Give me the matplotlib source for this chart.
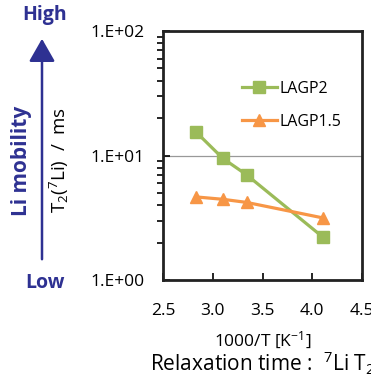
import matplotlib
matplotlib.use("Agg")
import matplotlib.pyplot as plt
from matplotlib.ticker import FixedLocator, LogLocator, NullFormatter

plt.rcParams['font.family'] = ['Open Sans', 'DejaVu Sans']
plt.rcParams['mathtext.fontset'] = 'custom'
plt.rcParams['mathtext.rm'] = 'Open Sans'
plt.rcParams['mathtext.it'] = 'Open Sans'
plt.rcParams['mathtext.bf'] = 'Open Sans:bold'

# Data
inv_T = [2.83, 3.10, 3.34, 4.11]
lagp2 = [15.5, 9.5, 7.0, 2.2]
lagp15 = [4.65, 4.45, 4.2, 3.15]
xticks = [2.5, 3.0, 3.5, 4.0, 4.5]
yticks = [1, 10, 100]
ytick_labels = ["1.E+00", "1.E+01", "1.E+02"]

W, H = 371, 378
fig = plt.figure(figsize=(W / 100, H / 100), dpi=100)
ax = fig.add_axes([163 / W, (H - 280) / H, 199 / W, 249 / H])

green = '#9BBB59'
orange = '#F79646'
ax.plot(inv_T, lagp2, color=green, lw=2.3, marker='s', ms=8, label='LAGP2')
ax.plot(inv_T, lagp15, color=orange, lw=2.3, marker='^', ms=9, label='LAGP1.5')

ax.set_yscale('log')
ax.set_ylim(1, 100)
ax.set_xlim(2.5, 4.5)
ax.set_xticks(xticks)
ax.set_xticklabels([f"{v:.1f}" for v in xticks])
ax.yaxis.set_major_locator(FixedLocator(yticks))
ax.set_yticklabels(ytick_labels)
ax.yaxis.set_minor_locator(LogLocator(base=10, subs=range(2, 10)))
ax.yaxis.set_minor_formatter(NullFormatter())
ax.tick_params(axis='both', direction='in', labelsize=12.5, colors='black')
ax.tick_params(axis='x', length=5, width=1.2, pad=16.5)
ax.tick_params(axis='y', which='major', length=5, width=1.2, pad=13)
ax.tick_params(axis='y', which='minor', length=4, width=1.2)
ax.grid(axis='y', which='major', color='#999999', lw=0.9)
for s in ax.spines.values():
    s.set_linewidth(2)
    s.set_color('#222222')

ax.set_xlabel(r'1000/T [K$^{-1}$]', fontsize=12.5, labelpad=8)
ax.set_ylabel(r'T$_2$($^7$Li)  /  ms', fontsize=13.5)
ax.yaxis.set_label_coords((71 - 163) / 199, (280 - 160) / 249)

ax.legend(loc='upper left', bbox_to_anchor=(0.395, 0.80), frameon=False,
          fontsize=11.5, handlelength=2.2, handletextpad=0.2, labelspacing=1.05,
          borderpad=0, borderaxespad=0)

blue = '#2E3192'
fig.text(22 / W, 1 - 161 / H, 'Li mobility', rotation=90, ha='center', va='center',
         fontsize=15, fontweight='bold', color=blue)
fig.text(45 / W, 1 - 15 / H, 'High', ha='center', va='center',
         fontsize=14, fontweight='bold', color=blue)
fig.text(45 / W, 1 - 283 / H, 'Low', ha='center', va='center',
         fontsize=14, fontweight='bold', color=blue)
fig.patches.append(matplotlib.patches.FancyArrowPatch(
    (42 / W, 1 - 262 / H), (42 / W, 1 - 36 / H), transform=fig.transFigure,
    arrowstyle='-|>,head_length=7,head_width=4', color=blue, lw=1.8,
    mutation_scale=2))

fig.text(150 / W, 1 - 363 / H, r'Relaxation time :  $^7$Li T$_2$', ha='left', va='center',
         fontsize=15)

fig.savefig('out.png', dpi=100)
